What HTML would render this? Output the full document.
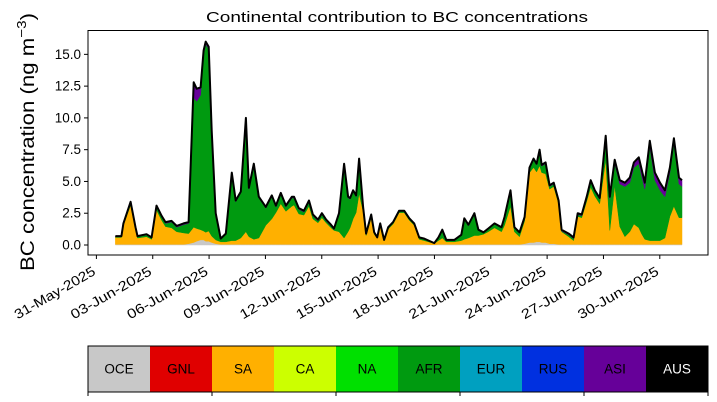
<!DOCTYPE html>
<html><head><meta charset="utf-8"><style>
html,body{margin:0;padding:0;background:#fff}
svg{display:block;font-family:"Liberation Sans","DejaVu Sans",sans-serif}
</style></head><body>
<svg id="chart" width="717" height="402" viewBox="0 0 717 402" xmlns="http://www.w3.org/2000/svg">
<defs><clipPath id="plotclip"><rect x="88" y="30.5" width="620" height="224.5"/></clipPath></defs>
<text x="397" y="22" font-size="15" text-anchor="middle" textLength="382" lengthAdjust="spacingAndGlyphs">Continental contribution to BC concentrations</text>
<text transform="translate(34,142) rotate(-90)" font-size="19" text-anchor="middle" textLength="258" lengthAdjust="spacingAndGlyphs">BC concentration (ng m<tspan font-size="13" dy="-8">−3</tspan><tspan dy="8">)</tspan></text>
<g id="areas" clip-path="url(#plotclip)"></g>
<rect x="88" y="30.5" width="620" height="224.5" fill="none" stroke="#000" stroke-width="1"/>
<g id="yticks"></g>
<g id="xticks"></g>
<g id="colorbar"></g>
</svg>
<script>
const days=[1.01,1.33,1.44,1.82,2.08,2.19,2.67,2.94,3.20,3.47,3.68,4.00,4.27,4.64,4.91,5.18,5.34,5.55,5.71,5.82,5.98,6.14,6.35,6.62,6.89,7.21,7.42,7.69,7.96,8.12,8.38,8.65,9.02,9.34,9.56,9.82,10.09,10.41,10.52,10.78,11.05,11.32,11.53,11.80,12.01,12.23,12.49,12.65,12.92,13.19,13.40,13.51,13.67,13.83,13.99,14.20,14.36,14.63,14.79,14.95,15.11,15.32,15.54,15.80,16.12,16.39,16.66,16.92,17.19,17.46,17.99,18.21,18.42,18.63,19.06,19.43,19.59,19.81,20.13,20.34,20.61,20.87,21.20,21.57,21.73,22.05,22.26,22.53,22.80,23.06,23.28,23.44,23.60,23.71,23.92,24.13,24.35,24.61,24.77,25.15,25.41,25.63,25.84,26.11,26.32,26.54,26.80,27.12,27.34,27.60,27.87,28.14,28.40,28.62,28.88,29.04,29.20,29.47,29.74,30.01,30.27,30.54,30.75,31.02,31.18];
const total=[0.7,0.7,1.7,3.4,1.4,0.7,0.85,0.6,3.1,2.3,1.8,1.9,1.5,1.7,1.8,12.8,12.3,12.4,15.3,16.0,15.6,9.0,2.5,0.5,0.9,5.7,3.5,4.2,10.0,4.5,6.4,3.8,3.0,3.9,3.1,4.1,3.1,3.8,3.8,2.9,2.7,3.5,2.4,2.0,2.5,2.0,1.6,1.3,2.5,6.4,3.8,3.7,4.3,3.9,6.8,3.0,0.9,2.4,1.0,0.6,1.7,0.4,1.4,1.8,2.7,2.7,2.1,1.7,0.6,0.5,0.15,0.6,1.2,0.4,0.4,0.8,2.1,1.6,2.5,1.2,1.0,1.3,1.7,1.4,2.2,4.3,1.4,1.0,2.2,6.1,6.8,6.4,7.5,6.3,6.5,4.7,4.9,3.5,1.2,0.9,0.6,2.5,2.4,3.8,5.1,4.3,3.7,8.6,3.8,6.7,5.1,4.9,5.3,6.5,6.9,5.9,4.9,8.2,5.7,4.9,4.3,6.1,8.4,5.3,5.1];
const sa=[0.55,0.55,1.5,3.1,1.2,0.5,0.6,0.4,2.7,1.9,1.4,1.3,1.0,0.9,0.8,1.2,1.0,0.8,0.7,0.7,0.8,0.5,0.3,0.2,0.2,0.3,0.3,0.5,1.0,0.6,0.4,0.5,1.5,2.0,2.5,3.2,2.6,3.0,3.1,2.4,2.3,3.0,2.0,1.7,2.1,1.7,1.3,1.1,1.0,0.5,1.0,1.3,2.0,2.5,4.0,2.6,0.7,2.1,0.8,0.5,1.5,0.3,1.2,1.6,2.5,2.5,1.9,1.5,0.4,0.3,0.1,0.3,0.5,0.2,0.2,0.3,0.4,0.5,0.7,0.7,0.8,1.0,1.3,1.0,1.5,3.0,1.0,0.6,1.8,5.5,5.9,5.5,6.0,5.5,5.4,4.3,4.5,3.2,1.0,0.6,0.3,2.2,2.1,3.4,4.5,3.8,3.2,6.7,1.1,4.6,1.4,0.6,1.0,1.6,1.3,0.8,0.4,0.3,0.3,0.3,0.5,2.2,3.0,2.1,2.1];
const asi=[0.05,0.05,0.05,0.05,0.05,0.05,0.05,0.05,0.1,0.1,0.1,0.1,0.1,0.1,0.1,1.2,1.0,0.6,0.3,0.2,0.2,0.1,0.05,0.05,0.05,0.1,0.1,0.1,0.1,0.1,0.1,0.1,0.1,0.1,0.1,0.1,0.1,0.1,0.1,0.1,0.1,0.1,0.1,0.1,0.1,0.1,0.1,0.1,0.1,0.1,0.1,0.1,0.1,0.1,0.1,0.05,0.05,0.05,0.05,0.05,0.05,0.05,0.05,0.05,0.05,0.05,0.05,0.05,0.05,0.05,0.0,0.05,0.05,0.05,0.05,0.05,0.1,0.1,0.1,0.05,0.05,0.05,0.05,0.05,0.05,0.1,0.05,0.05,0.05,0.1,0.1,0.1,0.1,0.1,0.1,0.1,0.1,0.1,0.1,0.1,0.1,0.1,0.1,0.1,0.1,0.1,0.1,0.2,0.2,0.3,0.3,0.3,0.4,0.4,0.5,0.5,0.5,0.5,0.6,0.6,0.5,0.4,0.4,0.5,0.5];
const oce=[0.05,0.05,0.05,0.05,0.05,0.05,0.05,0.05,0.05,0.05,0.05,0.05,0.05,0.05,0.1,0.2,0.3,0.4,0.4,0.3,0.3,0.2,0.1,0.05,0.05,0.05,0.05,0.05,0.05,0.05,0.05,0.05,0.05,0.05,0.05,0.05,0.05,0.05,0.05,0.05,0.05,0.05,0.05,0.05,0.05,0.05,0.05,0.05,0.05,0.05,0.05,0.05,0.05,0.05,0.05,0.05,0.05,0.05,0.05,0.05,0.05,0.05,0.05,0.05,0.05,0.05,0.05,0.05,0.05,0.05,0.02,0.05,0.05,0.05,0.05,0.05,0.05,0.05,0.05,0.05,0.05,0.05,0.05,0.05,0.05,0.05,0.05,0.05,0.1,0.2,0.2,0.25,0.25,0.2,0.2,0.1,0.1,0.05,0.05,0.05,0.05,0.05,0.05,0.05,0.05,0.05,0.05,0.05,0.05,0.05,0.05,0.05,0.05,0.05,0.05,0.05,0.05,0.05,0.05,0.05,0.05,0.05,0.05,0.05,0.05];
const yTicks=[0,2.5,5,7.5,10,12.5,15];
const yTickLabels=["0.0","2.5","5.0","7.5","10.0","12.5","15.0"];
const xTickDays=[0,3,6,9,12,15,18,21,24,27,30];
const xTickLabels=["31-May-2025","03-Jun-2025","06-Jun-2025","09-Jun-2025","12-Jun-2025","15-Jun-2025","18-Jun-2025","21-Jun-2025","24-Jun-2025","27-Jun-2025","30-Jun-2025"];
const regions=["OCE","GNL","SA","CA","NA","AFR","EUR","RUS","ASI","AUS"];
const regionColors=["#c8c8c8","#e00000","#ffb000","#ccff00","#00e000","#009a10","#00a0c0","#0030e0","#660099","#000000"];

const NS="http://www.w3.org/2000/svg";
function xs(d){return 96.4+d*18.78;}
function ys(v){return 245-v*12.71;}
function mk(tag,attrs,parent){const e=document.createElementNS(NS,tag);for(const k in attrs)e.setAttribute(k,attrs[k]);parent.appendChild(e);return e;}

const areas=document.getElementById('areas');
const afr=total.map((t,i)=>Math.max(0,t-oce[i]-sa[i]-asi[i]));
const layers=[[oce,"#c8c8c8","area-oce"],[sa,"#ffb000","area-sa"],[afr,"#009a10","area-afr"],[asi,"#660099","area-asi"]];
let base=days.map(()=>0);
layers.forEach(([vals,col,name])=>{
  const top=base.map((b,i)=>b+vals[i]);
  let d="M"+days.map((t,i)=>xs(t).toFixed(1)+","+ys(top[i]).toFixed(1)).join("L");
  for(let i=days.length-1;i>=0;i--)d+="L"+xs(days[i]).toFixed(1)+","+ys(base[i]).toFixed(1);
  d+="Z";
  const p=mk('path',{d:d,fill:col,stroke:col,'stroke-width':0.5},areas);
  
  
  base=top;
});
const tl=mk('path',{d:"M"+days.map((t,i)=>xs(t).toFixed(1)+","+ys(total[i]).toFixed(1)).join("L"),fill:"none",stroke:"#000",'stroke-width':2,'stroke-linejoin':'round'},areas);



const yt=document.getElementById('yticks');
yTicks.forEach((v,i)=>{
  const y=ys(v);
  const l=mk('line',{x1:84,x2:88,y1:y,y2:y,stroke:'#000'},yt);
  
  
  const t=mk('text',{x:81,y:y+4.5,'font-size':13.5,'text-anchor':'end'},yt);
  t.textContent=yTickLabels[i];
  
  
});
const xt=document.getElementById('xticks');
xTickDays.forEach((d,i)=>{
  const x=xs(d);
  const l=mk('line',{x1:x,x2:x,y1:255,y2:259,stroke:'#000'},xt);
  
  
  const t=mk('text',{transform:`translate(${x},${274}) rotate(-30)`,'font-size':13.5,'text-anchor':'end',textLength:91,lengthAdjust:'spacingAndGlyphs'},xt);
  t.textContent=xTickLabels[i];
  
  
});
const cb=document.getElementById('colorbar');
const segW=62;
regions.forEach((r,i)=>{
  const x=88+i*segW;
  const rc=mk('rect',{x:x,y:346,width:segW,height:46,fill:regionColors[i]},cb);
  
  
  const t=mk('text',{x:x+segW/2,y:373.5,'font-size':13.5,'text-anchor':'middle',fill:r==="AUS"?"#fff":"#000"},cb);
  t.textContent=r;
  
  
});
const fr=mk('rect',{x:88,y:346,width:620,height:46,fill:'none',stroke:'#000'},cb);


for(let k=0;k<=5;k++){
  const x=88+k*2*segW;
  const l=mk('line',{x1:x,x2:x,y1:392,y2:396,stroke:'#000'},cb);
  
  
}
</script>
</body></html>
